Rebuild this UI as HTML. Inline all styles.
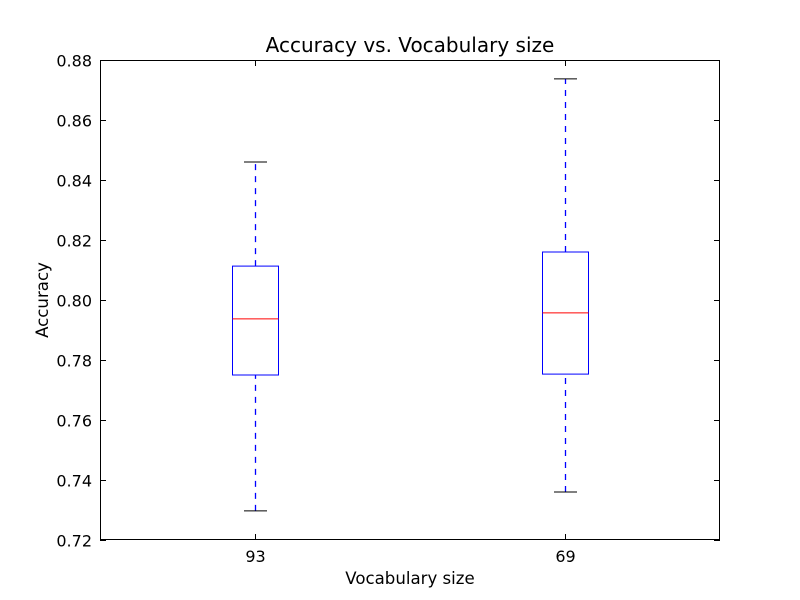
<!DOCTYPE html>
<html><head><meta charset="utf-8"><style>body{margin:0;background:#fff}svg{display:block}text{font-family:"DejaVu Sans","Liberation Sans",sans-serif;fill:#000}</style></head>
<body>
<svg id="chart" width="800" height="600">
<rect width="800" height="600" fill="#fff"/>
<text x="410" y="52" font-size="20" text-anchor="middle">Accuracy vs. Vocabulary size</text>
<text x="410" y="584" font-size="16.6" text-anchor="middle">Vocabulary size</text>
<text transform="translate(48,300) rotate(-90)" font-size="16.6" text-anchor="middle">Accuracy</text>
<g id="marks"></g>
<rect x="100.5" y="60.5" width="619" height="479" fill="none" stroke="#000" stroke-width="1"/>
</svg>
<script>
const categories = ["93", "69"];
const whiskerLow = [0.7297, 0.736];
const q1 = [0.775, 0.7753];
const medians = [0.7937, 0.7957];
const q3 = [0.8113, 0.816];
const whiskerHigh = [0.846, 0.8737];
const yTicks = [0.72, 0.74, 0.76, 0.78, 0.80, 0.82, 0.84, 0.86, 0.88];

const L=100,R=720,T=60,B=540,ymin=0.72,ymax=0.88;
const y=v=>B-(v-ymin)/(ymax-ymin)*(B-T);
const x=i=>L+(i+0.5)/categories.length*(R-L);
const NS="http://www.w3.org/2000/svg";
const g=document.getElementById('marks');
function mk(tag,attrs,parent){const e=document.createElementNS(NS,tag);for(const k in attrs)e.setAttribute(k,attrs[k]);(parent||g).appendChild(e);return e;}

yTicks.forEach(t=>{
  const yy=Math.round(y(t))+0.5;
  const a=mk('line',{x1:L,x2:L+6,y1:yy,y2:yy,stroke:'#000'});
  
  
  const b=mk('line',{x1:R-6,x2:R,y1:yy,y2:yy,stroke:'#000'});
  
  
  const tx=mk('text',{x:L-8,y:yy+6,'font-size':16,'text-anchor':'end'});
  tx.textContent=t.toFixed(2);
  
  
});

categories.forEach((c,i)=>{
  const cx=Math.round(x(i))+0.5, hw=23, cw=11.5;
  const t1=mk('line',{x1:cx,x2:cx,y1:B,y2:B-6,stroke:'#000'});
  
  
  const t2=mk('line',{x1:cx,x2:cx,y1:T,y2:T+6,stroke:'#000'});
  
  
  const lb=mk('text',{x:cx,y:B+22,'font-size':16,'text-anchor':'middle'});
  lb.textContent=c;
  
  
  const w1=mk('line',{x1:cx,x2:cx,y1:y(whiskerLow[i]),y2:y(q1[i]),stroke:'#0000ff','stroke-width':1.3,'stroke-dasharray':'6,6'});
  
  
  const w2=mk('line',{x1:cx,x2:cx,y1:y(q3[i]),y2:y(whiskerHigh[i]),stroke:'#0000ff','stroke-width':1.3,'stroke-dasharray':'6,6'});
  
  
  const c1=mk('line',{x1:cx-cw,x2:cx+cw,y1:y(whiskerLow[i]),y2:y(whiskerLow[i]),stroke:'#000'});
  
  
  const c2=mk('line',{x1:cx-cw,x2:cx+cw,y1:y(whiskerHigh[i]),y2:y(whiskerHigh[i]),stroke:'#000'});
  
  
  const bx=mk('rect',{x:cx-hw,y:y(q3[i]),width:2*hw,height:y(q1[i])-y(q3[i]),fill:'none',stroke:'#0000ff'});
  
  
  const md=mk('line',{x1:cx-hw,x2:cx+hw,y1:y(medians[i]),y2:y(medians[i]),stroke:'#ff0000'});
  
  
});
</script>
</body></html>
